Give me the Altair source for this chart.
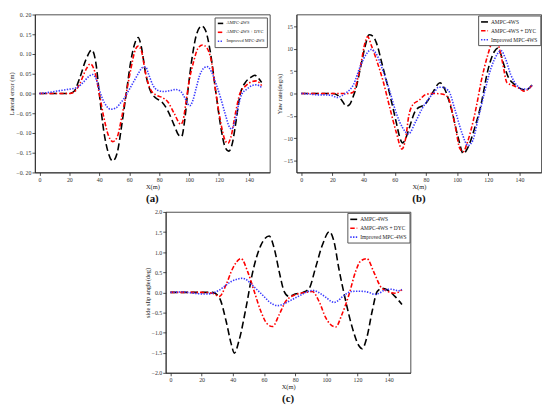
import altair as alt
import pandas as pd

SERIES = ["AMPC-4WS", "AMPC-4WS + DYC", "Improved MPC-4WS"]
COLORS = ["#000000", "#ff0000", "#3a3aff"]
DASHES = [[7, 3.5], [4.5, 2, 1.5, 2], [1.4, 1.4]]
X_TICKS = [0, 20, 40, 60, 80, 100, 120, 140]

# ---------------- panel (a): lateral error (m) ----------------
A_BLACK_X = [0, 10, 20, 23, 27, 31, 35, 38, 40, 43, 46, 49, 52, 55, 58, 61, 64, 66, 68, 71, 74, 78, 82, 86, 90, 93, 95, 97, 99, 102, 105, 108.5, 111, 114, 118, 121, 124, 126.5, 129, 131, 134, 138, 141, 144, 146, 148.5]
A_BLACK_Y = [0, 0, 0, 0.005, 0.04, 0.085, 0.11, 0.07, 0.0, -0.095, -0.15, -0.171, -0.15, -0.08, 0.0, 0.08, 0.13, 0.142, 0.12, 0.05, 0.008, -0.012, -0.022, -0.045, -0.08, -0.105, -0.109, -0.07, 0.0, 0.09, 0.15, 0.171, 0.16, 0.11, 0.0, -0.08, -0.135, -0.146, -0.125, -0.08, -0.005, 0.03, 0.04, 0.046, 0.04, 0.028]

A_RED_X = [0, 10, 20, 23, 27, 31, 34, 37, 40, 43, 46, 49, 52, 55, 58, 61, 64, 66, 68, 71, 74, 78, 82, 86, 90, 94.5, 96, 98, 100, 103, 106, 109, 112, 115, 118, 121, 124, 126, 128, 131, 134, 138, 142, 145, 148.5]
A_RED_Y = [0, 0, 0, 0.003, 0.025, 0.06, 0.075, 0.055, 0.0, -0.06, -0.105, -0.122, -0.11, -0.06, 0.0, 0.06, 0.11, 0.12, 0.11, 0.05, 0.012, -0.004, -0.01, -0.022, -0.05, -0.078, -0.068, -0.02, 0.03, 0.08, 0.115, 0.123, 0.115, 0.08, 0.0, -0.07, -0.118, -0.126, -0.11, -0.05, 0.0, 0.02, 0.03, 0.032, 0.02]

A_BLUE_X = [0, 5, 10, 15, 20, 25, 29, 33, 35.5, 37.5, 40, 42, 45, 47.5, 51, 54, 57, 60, 63, 66, 69, 71, 73, 76, 79, 83, 87, 91, 94, 97, 100.5, 102.5, 104.5, 107, 110, 112, 115, 118, 121, 124, 127, 128.5, 131, 133, 135.5, 139, 142, 145, 148.5]
A_BLUE_Y = [0, 0.002, 0.005, 0.008, 0.011, 0.015, 0.027, 0.043, 0.048, 0.04, 0.01, -0.012, -0.033, -0.04, -0.037, -0.025, -0.01, 0.01, 0.03, 0.05, 0.066, 0.067, 0.048, 0.02, 0.008, 0.005, 0.007, 0.01, 0.007, -0.01, -0.031, -0.018, 0.01, 0.045, 0.065, 0.068, 0.055, 0.025, -0.01, -0.05, -0.085, -0.09, -0.065, -0.03, 0.0, 0.012, 0.02, 0.022, 0.015]

A_Y_TICKS = [-0.2, -0.15, -0.1, -0.05, 0.0, 0.05, 0.1, 0.15, 0.2]

# ---------------- panel (b): yaw rate (deg/s) ----------------
B_BLACK_X = [0, 10, 20, 23, 26, 29, 31, 33, 35, 38, 41, 43.5, 46, 48, 52.5, 56.7, 61, 63, 65, 67, 69, 73.5, 80, 84, 89, 92, 96.5, 100.8, 104, 107, 111, 115.5, 119.6, 123.8, 126, 128, 130, 133, 136.5, 140, 143, 145, 148]
B_BLACK_Y = [0, 0, 0, -0.3, -1.5, -2.8, -2.5, -1.0, 1.0, 5.7, 10.5, 13.1, 12.8, 11.5, 5.7, 0.0, -6.5, -9.5, -11.0, -10.0, -8.0, -3.7, -2.2, 0.0, 2.4, 1.0, -3.7, -10.0, -13.4, -12.0, -8.0, -2.2, 5.0, 9.3, 10.1, 8.8, 6.4, 3.5, 2.1, 1.2, 0.8, 0.9, 1.9]

B_RED_X = [0, 10, 20, 30, 33, 37.8, 41, 42.6, 45, 48, 52.5, 56.7, 61, 64.6, 67, 69, 71.4, 75.6, 80, 85, 90, 92, 94.5, 98.7, 101.8, 104, 106, 109, 112.3, 115.5, 119.6, 122.8, 123.8, 126, 129, 132, 136.4, 140.6, 142.7, 145, 148]
B_RED_Y = [0, 0, 0, 0, 0.2, 5.7, 11.4, 12.7, 10.7, 7.8, 2.8, -3.0, -8.7, -12.4, -10.0, -5.0, -2.6, -1.5, -0.2, 0.0, -0.1, -0.3, -1.1, -7.2, -12.3, -13.0, -11.5, -8.0, -3.0, 2.8, 8.5, 11.8, 12.3, 11.4, 7.1, 2.4, 1.7, 1.0, 0.5, 0.8, 1.8]

B_BLUE_X = [0, 5, 10, 15, 20, 23, 26, 29.4, 33.6, 37.8, 42, 45, 48, 52.5, 56.7, 61, 65, 68.8, 73.5, 77.7, 82, 86, 88, 90, 94.5, 98.7, 103, 107, 110, 113.4, 117.6, 121.8, 126, 128, 131, 134.4, 138.6, 141.7, 145, 148]
B_BLUE_Y = [0, -0.1, -0.3, -0.3, -0.5, -0.9, -0.5, 0.3, 2.0, 6.0, 8.9, 9.8, 8.9, 5.0, 0.6, -4.4, -7.6, -9.0, -6.2, -3.3, -1.1, 0.6, 1.4, 1.4, 0.6, -3.7, -8.7, -11.6, -10.5, -5.8, 0.3, 5.7, 8.9, 9.6, 7.8, 4.2, 1.7, 1.0, 1.0, 1.8]

B_Y_TICKS = [-15, -10, -5, 0, 5, 10, 15]

# ---------------- panel (c): side slip angle (deg) ----------------
C_BLACK_X = [0, 10, 20, 27, 31.5, 35.7, 39, 41, 44, 48.5, 52.8, 58, 63.4, 66.6, 69.8, 73, 76, 80, 85, 89, 93, 97.4, 102, 105, 108, 112, 116.6, 120.8, 123, 126, 129.4, 132.6, 135.7, 140, 144, 148.5]
C_BLACK_Y = [0, 0, 0, 0, -0.14, -0.71, -1.28, -1.51, -1.2, -0.38, 0.51, 1.17, 1.4, 1.09, 0.51, 0.02, -0.1, -0.04, 0.0, 0.1, 0.6, 1.17, 1.51, 1.25, 0.6, -0.14, -0.87, -1.32, -1.4, -1.12, -0.47, 0.02, 0.1, 0.04, -0.1, -0.3]

C_RED_X = [0, 10, 20, 27, 31.5, 35.7, 40, 45.3, 49.6, 53.8, 58, 62, 65.5, 69.8, 74, 80, 86.8, 91, 95.3, 99.6, 106, 110, 114.5, 118.7, 122, 126, 130.4, 134.7, 139, 144, 148.5]
C_RED_Y = [0, 0, 0, -0.02, -0.1, 0.19, 0.6, 0.84, 0.51, 0.02, -0.47, -0.78, -0.85, -0.55, -0.22, -0.06, 0.0, 0.02, -0.22, -0.63, -0.86, -0.55, -0.06, 0.51, 0.78, 0.84, 0.51, 0.15, 0.03, -0.02, 0.07]

C_BLUE_X = [0, 8, 13, 17, 23, 27, 31, 35, 39, 43, 46, 49, 52, 56, 60, 63, 66, 69, 72, 76, 80, 84, 88, 91, 94, 97, 100, 103, 105, 107, 110, 113, 116, 120, 125, 128, 131, 134, 137, 141, 144, 146, 148.5]
C_BLUE_Y = [0, 0.01, -0.01, -0.03, -0.04, -0.02, 0.05, 0.16, 0.27, 0.33, 0.35, 0.31, 0.2, 0.05, -0.1, -0.22, -0.3, -0.33, -0.3, -0.22, -0.14, -0.06, 0.02, 0.05, 0.02, -0.05, -0.13, -0.22, -0.25, -0.22, -0.12, -0.03, 0.02, 0.03, 0.02, -0.01, -0.05, -0.02, 0.05, 0.08, 0.06, 0.04, 0.07]

C_Y_TICKS = [-2.0, -1.5, -1.0, -0.5, 0.0, 0.5, 1.0, 1.5, 2.0]

FONT = "Liberation Serif"


def make_panel(series_xy, ytitle, ydomain, yticks, label_expr, caption, width, height,
               leg_font, leg_sym, leg_offset):
    rows = []
    for name, (xs, ys) in zip(SERIES, series_xy):
        for xv, yv in zip(xs, ys):
            rows.append({"x": xv, "y": yv, "series": name})
    df = pd.DataFrame(rows)
    legend = alt.Legend(
        title=None, orient="top-right", offset=leg_offset, fillColor="white",
        strokeColor="#555555", padding=2, rowPadding=1, labelFontSize=leg_font,
        labelFont=FONT, labelColor="#222222", symbolType="stroke",
        symbolSize=leg_sym, symbolStrokeWidth=1.6, labelOffset=2, labelLimit=200,
    )
    return alt.Chart(
        df,
        title=alt.TitleParams(caption, orient="bottom", fontSize=11, fontWeight="bold",
                              font=FONT, color="#111111", offset=3),
    ).mark_line(interpolate="monotone", strokeWidth=1.6).encode(
        x=alt.X("x:Q", scale=alt.Scale(domain=[-3, 154], nice=False, zero=False),
                axis=alt.Axis(values=X_TICKS, title="X(m)")),
        y=alt.Y("y:Q", scale=alt.Scale(domain=ydomain, nice=False, zero=False),
                axis=alt.Axis(values=yticks, title=ytitle, labelExpr=label_expr)),
        color=alt.Color("series:N", scale=alt.Scale(domain=SERIES, range=COLORS), legend=legend),
        strokeDash=alt.StrokeDash("series:N", scale=alt.Scale(domain=SERIES, range=DASHES), legend=legend),
    ).properties(width=width, height=height)


pa = make_panel([(A_BLACK_X, A_BLACK_Y), (A_RED_X, A_RED_Y), (A_BLUE_X, A_BLUE_Y)],
                "Lateral error (m)", [-0.2, 0.2], A_Y_TICKS,
                "replace(format(datum.value, '.2f'), '.', '. ')", "(a)", 238, 160,
                4.5, 30, 3)
pb = make_panel([(B_BLACK_X, B_BLACK_Y), (B_RED_X, B_RED_Y), (B_BLUE_X, B_BLUE_Y)],
                "Yaw rate(deg/s)", [-17.6, 17.6], B_Y_TICKS,
                "format(datum.value, 'd')", "(b)", 248, 160,
                5.5, 50, 1)
pc = make_panel([(C_BLACK_X, C_BLACK_Y), (C_RED_X, C_RED_Y), (C_BLUE_X, C_BLUE_Y)],
                "side slip angle(deg)", [-2.0, 2.0], C_Y_TICKS,
                "format(datum.value, '.1f')", "(c)", 248, 163,
                5.5, 50, 1)

top = alt.hconcat(pa, pb, spacing=5).resolve_scale(color="independent", strokeDash="independent")
chart = alt.vconcat(top, pc, spacing=4, center=True).resolve_scale(
    color="independent", strokeDash="independent"
).properties(
    padding={"left": 0, "top": 0, "right": 0, "bottom": 0}
).configure(font=FONT, background="white").configure_view(
    stroke="#222222", strokeWidth=0.8
).configure_axis(
    grid=False, labelFontSize=6, titleFontSize=6.5, labelFont=FONT, titleFont=FONT,
    labelColor="#333333", titleColor="#222222", titleFontWeight="normal",
    domainColor="#222222", tickColor="#222222", tickSize=3, labelPadding=1,
    titlePadding=1, domainWidth=0.8, tickWidth=0.8,
)

chart.save("out.html", embed_options={"renderer": "svg", "actions": False})
